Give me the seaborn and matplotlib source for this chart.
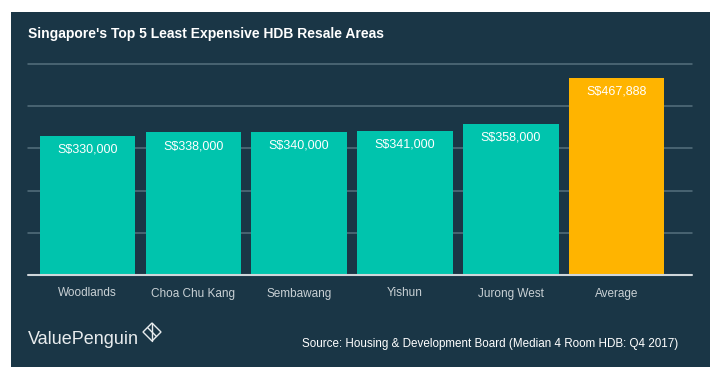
import matplotlib
matplotlib.use("Agg")
import matplotlib.pyplot as plt
import seaborn as sns
import pandas as pd
from matplotlib.patches import Rectangle, Polygon
from matplotlib.lines import Line2D

# Data
areas = ["Woodlands", "Choa Chu Kang", "Sembawang", "Yishun", "Jurong West", "Average"]
prices = [330000, 338000, 340000, 341000, 358000, 467888]
price_labels = ["S$330,000", "S$338,000", "S$340,000", "S$341,000", "S$358,000", "S$467,888"]

BG = "#1a3646"
TEAL = "#00c4ad"
GOLD = "#ffb400"

sns.set_theme(style="white")
plt.rcParams["font.family"] = ["Liberation Sans", "DejaVu Sans"]

df = pd.DataFrame({"area": areas, "price": prices})
colors = {a: (GOLD if a == "Average" else TEAL) for a in areas}

fig = plt.figure(figsize=(7.17, 3.76), dpi=100)
fig.patch.set_facecolor("white")

# dark panel behind everything
panel = Rectangle((11 / 717, 1 - 367 / 376), 699 / 717, 355 / 376,
                  transform=fig.transFigure, facecolor=BG, edgecolor="none", zorder=-5)
fig.patches.append(panel)

ax = fig.add_axes([28 / 717, 1 - 275 / 376, 664 / 717, 211 / 376])
ax.set_zorder(1)
ax.patch.set_alpha(0)

sns.barplot(data=df, x="area", y="price", hue="area", palette=colors,
            width=0.9, saturation=1, legend=False, ax=ax, zorder=2,
            edgecolor="none", linewidth=0)

ax.set_xlim(-0.56, 5.71)
ax.set_ylim(0, 500000)

# gridlines
for v in [100000, 200000, 300000, 400000, 500000]:
    ax.axhline(v, color="#56707e", lw=1.1, zorder=1, clip_on=False)
ax.axhline(0, color="#cfd6da", lw=1.5, zorder=3, clip_on=False)

for i, (p, lab) in enumerate(zip(prices, price_labels)):
    ax.annotate(lab, (i, p), xytext=(0, -10), textcoords="offset points",
                ha="center", va="center", color="white", fontsize=9, zorder=4)

for s in ax.spines.values():
    s.set_visible(False)
ax.set_yticks([])
ax.set_xlabel("")
ax.set_ylabel("")
ax.tick_params(axis="x", length=0, pad=9, labelsize=8.5, labelcolor="#c9d1d5")

fig.text(28 / 717, 1 - 34 / 376, "Singapore's Top 5 Least Expensive HDB Resale Areas",
         color="white", fontsize=10, fontweight="bold", ha="left", va="center")

fig.text(28 / 717, 1 - 339 / 376, "ValuePenguin", color="#e8ecee",
         fontsize=13, ha="left", va="center")

# small diamond logo next to the brand name
cx, cy, r = 152, 332, 9
pts = [(cx, cy - r), (cx + r, cy), (cx, cy + r), (cx - r, cy)]
fig.patches.append(Polygon([(x / 717, 1 - y / 376) for x, y in pts], closed=True,
                           transform=fig.transFigure, fill=False,
                           edgecolor="#e8ecee", lw=1.0))
fig.lines.append(Line2D([(cx - r / 2) / 717, (cx + r / 2) / 717],
                        [1 - (cy - r / 2) / 376, 1 - (cy + r / 2) / 376],
                        transform=fig.transFigure, color="#e8ecee", lw=1.0))
fig.lines.append(Line2D([cx / 717, cx / 717], [1 - (cy - r) / 376, 1 - (cy + r) / 376],
                        transform=fig.transFigure, color="#e8ecee", lw=1.0))

fig.text(678 / 717, 1 - 344 / 376,
         "Source: Housing & Development Board (Median 4 Room HDB: Q4 2017)",
         color="white", fontsize=8.4, ha="right", va="center")

fig.savefig("out.png", dpi=100, facecolor="white")
